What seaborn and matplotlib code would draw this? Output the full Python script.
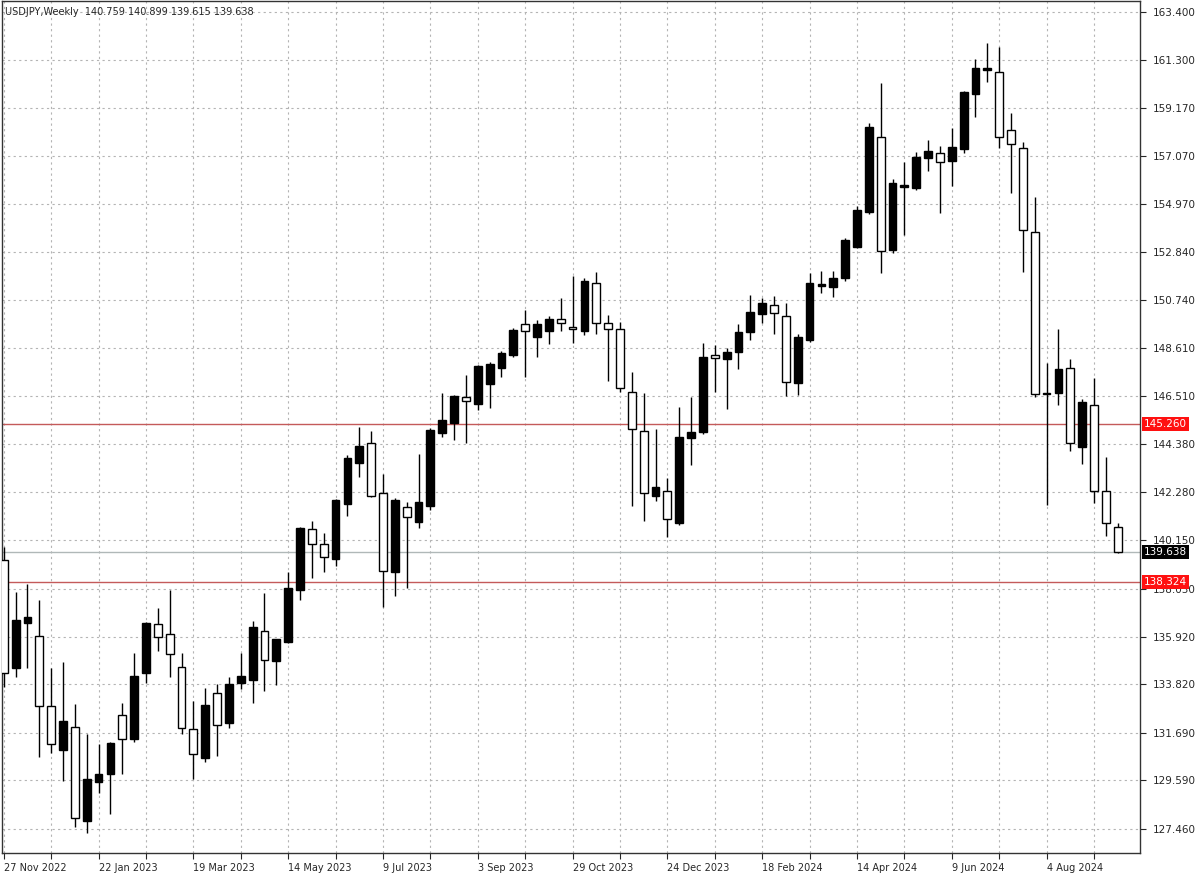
import numpy as np
import pandas as pd
import matplotlib
matplotlib.use("Agg")
import matplotlib.pyplot as plt
import matplotlib.transforms as mtransforms
import seaborn as sns

# Datos OHLC semanales USDJPY
opens = [139.29, 134.54, 136.52, 135.95, 132.87, 130.93, 131.94, 127.81, 129.52, 129.88,
         132.47, 131.42, 134.32, 136.48, 136.04, 134.58, 131.86, 130.58, 133.44, 132.12,
         133.88, 134.01, 136.17, 134.85, 135.68, 137.97, 140.65, 139.99, 139.33, 141.75,
         143.56, 144.44, 142.24, 138.76, 141.62, 140.96, 141.67, 144.88, 145.32, 146.46,
         146.15, 147.03, 147.74, 148.31, 149.67, 149.10, 149.37, 149.89, 149.54, 149.37,
         151.48, 149.72, 149.45, 146.68, 144.97, 142.11, 142.33, 140.92, 144.66, 144.92,
         148.31, 148.13, 148.44, 149.32, 150.11, 150.51, 150.03, 147.08, 148.97, 151.35,
         151.31, 151.70, 153.06, 154.60, 157.90, 152.93, 155.72, 155.66, 156.98, 157.20,
         156.84, 157.37, 159.79, 160.86, 160.76, 158.21, 157.42, 153.72, 146.58, 146.64,
         147.74, 144.26, 146.11, 142.33, 140.759]
highs = [139.86, 137.88, 138.24, 137.53, 134.54, 134.80, 132.96, 131.64, 131.20, 131.30,
         132.99, 135.20, 136.56, 137.18, 137.97, 135.20, 133.09, 133.66, 133.84, 134.14,
         135.20, 136.61, 137.84, 135.82, 138.76, 140.74, 141.00, 140.48, 141.97, 143.91,
         145.14, 144.97, 143.07, 142.02, 141.84, 143.96, 145.10, 146.64, 146.55, 147.43,
         147.87, 148.00, 148.49, 149.50, 150.29, 149.85, 150.03, 150.82, 151.79, 151.70,
         151.96, 150.07, 149.76, 147.56, 146.64, 145.05, 142.90, 146.02, 146.46, 148.84,
         148.75, 148.62, 149.67, 150.95, 150.82, 150.91, 150.60, 149.23, 151.92, 152.00,
         152.00, 153.46, 154.87, 158.52, 160.28, 156.05, 156.80, 157.24, 157.77, 157.50,
         158.30, 159.93, 161.33, 162.04, 161.86, 158.96, 157.68, 155.26, 147.96, 149.45,
         148.13, 146.37, 147.30, 143.82, 140.899]
lows = [133.70, 134.14, 134.54, 130.62, 130.80, 129.57, 127.54, 127.28, 129.04, 128.12,
        129.88, 131.30, 133.88, 135.29, 134.14, 131.64, 129.66, 130.40, 130.67, 131.90,
        133.62, 133.00, 133.53, 133.79, 135.64, 137.53, 138.50, 138.76, 139.03, 141.23,
        142.94, 142.05, 137.22, 137.71, 138.06, 140.70, 141.50, 144.70, 144.57, 144.44,
        145.90, 145.98, 147.34, 148.20, 147.34, 148.22, 148.79, 149.37, 148.84, 149.20,
        149.23, 147.17, 146.68, 141.67, 141.00, 141.89, 140.30, 140.82, 143.47, 144.85,
        146.68, 145.93, 147.69, 148.99, 149.72, 149.23, 146.51, 146.55, 148.90, 151.04,
        150.86, 151.57, 153.02, 154.51, 151.92, 152.80, 153.59, 155.57, 156.40, 154.56,
        155.74, 157.20, 158.78, 160.32, 157.42, 155.44, 151.96, 146.46, 141.71, 146.11,
        144.09, 143.51, 141.80, 140.35, 139.615]
closes = [134.32, 136.65, 136.78, 132.87, 131.20, 132.21, 127.94, 129.66, 129.88, 131.24,
          131.42, 134.19, 136.52, 135.90, 135.16, 131.90, 130.76, 132.91, 132.03, 133.84,
          134.19, 136.34, 134.89, 135.82, 138.06, 140.70, 139.99, 139.42, 141.93, 143.78,
          144.31, 142.11, 138.81, 141.93, 141.18, 141.84, 145.01, 145.45, 146.51, 146.29,
          147.83, 147.91, 148.40, 149.41, 149.37, 149.67, 149.89, 149.72, 149.45, 151.57,
          149.72, 149.45, 146.86, 145.05, 142.24, 142.50, 141.09, 144.70, 144.92, 148.22,
          148.18, 148.44, 149.32, 150.20, 150.60, 150.16, 147.12, 149.10, 151.48, 151.44,
          151.70, 153.37, 154.69, 158.34, 152.89, 155.88, 155.78, 157.02, 157.28, 156.80,
          157.46, 159.88, 160.94, 160.92, 157.90, 157.59, 153.81, 146.59, 146.64, 147.69,
          144.44, 146.24, 142.33, 140.92, 139.638]

# Niveles horizontales
niveles_rojos = [145.260, 138.324]
precio_actual = 139.638

# Etiquetas del eje de precios
precios_eje = [163.400, 161.300, 159.170, 157.070, 154.970, 152.840, 150.740, 148.610,
               146.510, 144.380, 142.280, 140.150, 138.030, 135.920, 133.820, 131.690,
               129.590, 127.460]

semanas = pd.date_range("2022-11-27", periods=len(opens), freq="7D")

df = pd.DataFrame({"fecha": semanas, "open": opens, "high": highs,
                   "low": lows, "close": closes})
df["x"] = np.arange(len(df))
df["alcista"] = df["close"] >= df["open"]

sns.set_style("white")
plt.rcParams["font.family"] = ["DejaVu Sans"]

fig = plt.figure(figsize=(12, 8.74), dpi=100)
ax = fig.add_axes([2 / 1200, 21 / 874, 1138 / 1200, 852 / 874])

# Mechas
ax.vlines(df["x"], df["low"], df["high"], color="black", linewidth=1, zorder=3)

# Cuerpos: negro = alcista, blanco = bajista
cuerpo_bajo = df[["open", "close"]].min(axis=1)
cuerpo_alto = df[["open", "close"]].max(axis=1)
colores = np.where(df["alcista"], "black", "white")
ax.bar(df["x"], cuerpo_alto - cuerpo_bajo, bottom=cuerpo_bajo, width=0.66,
       color=colores, edgecolor="black", linewidth=1, zorder=4)

# Lineas horizontales
for nivel in niveles_rojos:
    ax.axhline(nivel, color="#c45a5a", linewidth=1, zorder=2)
ax.axhline(precio_actual, color="#b0b8b8", linewidth=1, zorder=2)

# Limites
ax.set_xlim(-0.15, -0.15 + 1138 / 11.85)
ax.set_ylim(126.40, 163.884)

# Rejilla
xticks = np.arange(0, len(df) + 1, 4)
ax.set_xticks(xticks)
etiquetas_x = []
for i in xticks:
    if i % 8 == 0 and i < len(df):
        d = semanas[i]
        etiquetas_x.append(f"{d.day} {d.strftime('%b %Y')}")
    else:
        etiquetas_x.append("")
ax.set_xticklabels(etiquetas_x, ha="left", fontsize=7)
ax.set_yticks(precios_eje)
ax.set_yticklabels([f"{p:.3f}" for p in precios_eje], fontsize=7.5)
ax.yaxis.tick_right()
ax.tick_params(axis="y", direction="out", length=4, width=0.8, pad=5, right=True)
ax.tick_params(axis="x", direction="out", length=4, width=0.8, pad=3, bottom=True)
ax.grid(True, color="#b4b4b4", linestyle=(0, (2, 3)), linewidth=0.8)
ax.set_axisbelow(True)
for s in ax.spines.values():
    s.set_color("#333333")
    s.set_linewidth(1)

# Cajas de precio a la derecha
trans = mtransforms.blended_transform_factory(ax.transAxes, ax.transData)
for nivel in niveles_rojos:
    ax.text(1.0 + 4 / 1138, nivel, f"{nivel:.3f}", transform=trans, ha="left",
            va="center", fontsize=7.5, color="white", zorder=10,
            bbox=dict(boxstyle="square,pad=0.18", fc="#ff1010", ec="none"))
ax.text(1.0 + 4 / 1138, precio_actual, f"{precio_actual:.3f}", transform=trans,
        ha="left", va="center", fontsize=7.5, color="white", zorder=10,
        bbox=dict(boxstyle="square,pad=0.18", fc="black", ec="none"))

# Titulo
ax.text(3 / 1138, 1 - 11 / 852,
        f"USDJPY,Weekly  {opens[-1]:.3f} {highs[-1]:.3f} {lows[-1]:.3f} {closes[-1]:.3f}",
        transform=ax.transAxes, ha="left", va="center", fontsize=7, zorder=10)

fig.savefig("out.png", dpi=100, facecolor="white")
